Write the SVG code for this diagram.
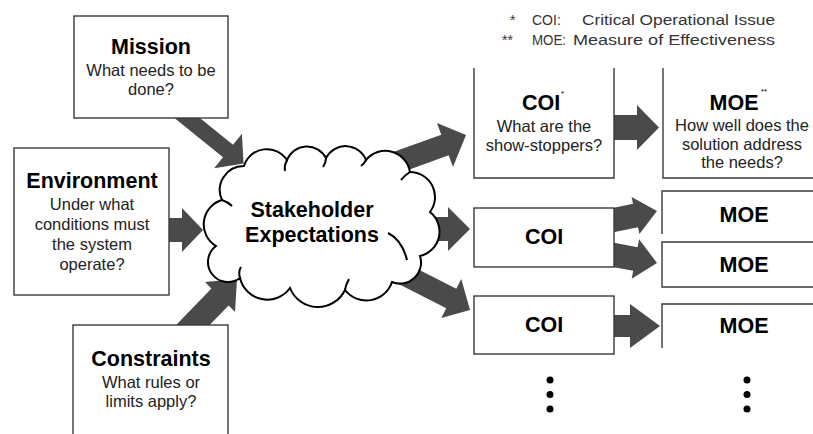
<svg xmlns="http://www.w3.org/2000/svg" width="813" height="434" viewBox="0 0 813 434">
<style>
.bg{fill:#fff}
.arrow{fill:#4a4a4a}
.box{fill:#fff;stroke:none}
.edge{fill:none;stroke:#3a3a3a;stroke-width:1.4}
.title{font-family:"Liberation Sans",Arial,sans-serif;font-weight:bold;font-size:21.5px;fill:#000;text-anchor:middle}
.sub{font-family:"Liberation Sans",Arial,sans-serif;font-size:16.5px;fill:#222;text-anchor:middle}
.sup{font-family:"Liberation Sans",Arial,sans-serif;font-size:8px;fill:#000}
.legend{font-family:"Liberation Sans",Arial,sans-serif;font-size:14px;fill:#333}
.cloud{fill:#fff;stroke:#000;stroke-width:2}
.curl{fill:none;stroke:#000;stroke-width:2}
.dot{fill:#000}
</style>
<rect class="bg" x="0" y="0" width="813" height="434"/>
<g id="connectors">
  <polygon class="arrow" points="152.2,100 177.5,100 233,144.8 241.9,133.8 243.6,163.6 214.1,168.2 223,157.2"/>
  <polygon class="arrow" points="150,218 182,218 182,208 203,230 182,252 182,242 150,242"/>
  <polygon class="arrow" points="161.7,340 211.4,288.6 205,282 237,279 235,312 228.6,305.4 195,340"/>
  <polygon class="arrow" points="384.9,155.1 441.3,134.7 437,123 466,135 453,167 448.7,155.3 392.3,175.7"/>
  <polygon class="arrow" points="380,217 448,217 448,207 470,229 448,251 448,241 380,241"/>
  <polygon class="arrow" points="393.9,256.9 456.3,288.7 461.3,278.9 470,310 441.3,318.1 446.3,308.3 383.9,276.5"/>
  <polygon class="arrow" points="600,115 637,115 637,105 659,127.5 637,150 637,140 600,140"/>
  <polygon class="arrow" points="597.5,211.2 633,203.8 631.6,196.9 657,211 639.4,234.1 638,227.2 602.5,234.6"/>
  <polygon class="arrow" points="602.2,240.6 637.6,247.2 639.1,239.3 657,263 631.7,278.7 633.2,270.8 597.8,264.2"/>
  <polygon class="arrow" points="600,315 630,315 630,304 660,326 630,348 630,337 600,337"/>
</g>
<g id="legend">
  <text class="legend" y="25"><tspan x="510">*</tspan><tspan x="532">COI:</tspan><tspan x="582" textLength="193" lengthAdjust="spacingAndGlyphs">Critical Operational Issue</tspan></text>
  <text class="legend" y="45"><tspan x="502">**</tspan><tspan x="532" textLength="34" lengthAdjust="spacingAndGlyphs">MOE:</tspan><tspan x="573" textLength="202" lengthAdjust="spacingAndGlyphs">Measure of Effectiveness</tspan></text>
</g>
<g id="mission">
  <rect class="box" x="74" y="16" width="154" height="102"/>
  <rect class="edge" x="74" y="16" width="154" height="102"/>
  <text class="title" x="151" y="54">Mission</text>
  <text class="sub" x="151" y="76">What needs to be</text>
  <text class="sub" x="151" y="95">done?</text>
</g>
<g id="environment">
  <rect class="box" x="14" y="148" width="155" height="147"/>
  <rect class="edge" x="14" y="148" width="155" height="147"/>
  <text class="title" x="92" y="188">Environment</text>
  <text class="sub" x="92" y="210">Under what</text>
  <text class="sub" x="92" y="230">conditions must</text>
  <text class="sub" x="92" y="250">the system</text>
  <text class="sub" x="92" y="270">operate?</text>
</g>
<g id="constraints">
  <rect class="box" x="73" y="325" width="155" height="120"/>
  <rect class="edge" x="73" y="325" width="155" height="120"/>
  <text class="title" x="151" y="366">Constraints</text>
  <text class="sub" x="151" y="388">What rules or</text>
  <text class="sub" x="151" y="407">limits apply?</text>
</g>
<g id="stakeholder-expectations">
  <path class="cloud" d="M216,246 A25.3,25.3 0 0 1 222,200 A24,24 0 0 1 244,166 A24,24 0 0 1 287,160 A21.5,21.5 0 0 1 326,158 A22,22 0 0 1 366,160 A25,25 0 0 1 410,172 A25,25 0 0 1 430,212 A25,25 0 0 1 420,256 A21,21 0 0 1 392,282 A27,27 0 0 1 345,290 A30,30 0 0 1 290,288 A28,28 0 0 1 240,278 A20,20 0 0 1 216,246 Z"/>
  <path class="curl" d="M287,160 Q284,166 285,171"/>
  <path class="curl" d="M326,158 Q326,163 323,167"/>
  <path class="curl" d="M366,160 Q364,164 361,166"/>
  <path class="curl" d="M410,172 Q405,175 401,180"/>
  <path class="curl" d="M388,233 Q402,240 407,260"/>
  <path class="curl" d="M222,200 Q228,202 232,206"/>
  <path class="curl" d="M240,278 Q238,272 241,267"/>
  <path class="curl" d="M345,290 Q346,284 349,279"/>
  <text class="title" x="312" y="217">Stakeholder</text>
  <text class="title" x="312" y="242">Expectations</text>
</g>
<g id="coi-1">
  <rect class="box" x="474" y="68" width="140" height="110"/>
  <path class="edge" d="M474,68 V178 H614 V68"/>
  <text class="title" x="541" y="110">COI</text>
  <text class="sup" x="561" y="96">*</text>
  <text class="sub" x="544" y="132">What are the</text>
  <text class="sub" x="544" y="151">show-stoppers?</text>
</g>
<g id="moe-1">
  <rect class="box" x="663" y="68" width="170" height="110"/>
  <path class="edge" d="M663,68 V178 H833"/>
  <text class="title" x="734" y="110">MOE</text>
  <text class="sup" x="761" y="94">**</text>
  <text class="sub" x="742" y="131">How well does the</text>
  <text class="sub" x="742" y="150">solution address</text>
  <text class="sub" x="742" y="168">the needs?</text>
</g>
<g id="coi-2">
  <rect class="box" x="474" y="208" width="140" height="59"/>
  <rect class="edge" x="474" y="208" width="140" height="59"/>
  <text class="title" x="544" y="244">COI</text>
</g>
<g id="moe-2">
  <rect class="box" x="662" y="191" width="170" height="43"/>
  <path class="edge" d="M662,234 V191 H833"/>
  <text class="title" x="744" y="222">MOE</text>
</g>
<g id="moe-3">
  <rect class="box" x="662" y="242" width="170" height="45"/>
  <path class="edge" d="M833,242 H662 V287 H833"/>
  <text class="title" x="744" y="272">MOE</text>
</g>
<g id="coi-3">
  <rect class="box" x="474" y="296" width="140" height="58"/>
  <rect class="edge" x="474" y="296" width="140" height="58"/>
  <text class="title" x="544" y="332">COI</text>
</g>
<g id="moe-4">
  <rect class="box" x="662" y="304" width="170" height="44"/>
  <path class="edge" d="M662,348 V304 H833"/>
  <text class="title" x="744" y="333">MOE</text>
</g>
<g id="more-coi">
  <circle class="dot" cx="550" cy="380" r="3.5"/>
  <circle class="dot" cx="550" cy="394.5" r="3.5"/>
  <circle class="dot" cx="550" cy="409" r="3.5"/>
</g>
<g id="more-moe">
  <circle class="dot" cx="747" cy="380" r="3.5"/>
  <circle class="dot" cx="747" cy="394.5" r="3.5"/>
  <circle class="dot" cx="747" cy="409" r="3.5"/>
</g>
</svg>
